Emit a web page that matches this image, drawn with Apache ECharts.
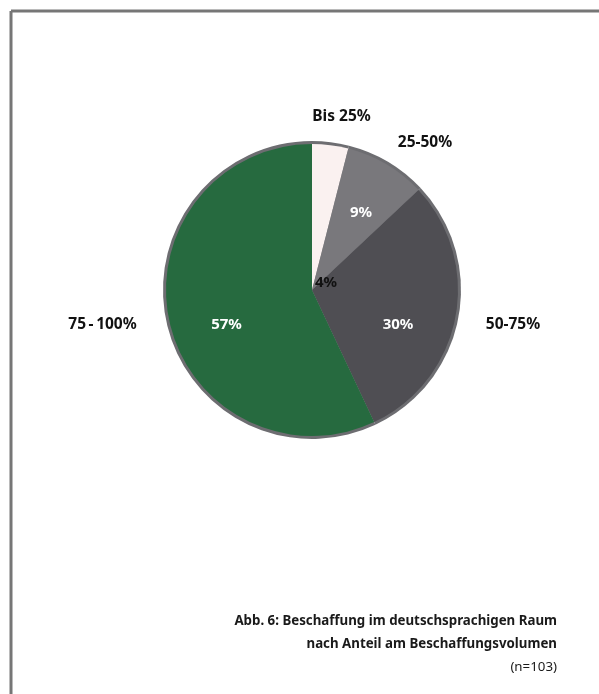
<!DOCTYPE html>
<html>
<head>
<meta charset="utf-8">
<script src="https://cdn.jsdelivr.net/npm/echarts@6/dist/echarts.min.js"></script>
<style>
  html, body { margin: 0; padding: 0; background: #ffffff; }
  #chart { width: 599px; height: 694px; }
</style>
</head>
<body>
<div id="chart"></div>
<script>
// Shares of procurement volume sourced in the German-speaking region
const categories = ['Bis 25%', '25-50%', '50-75%', '75\u2009-\u2009100%'];
const shares = [4, 9, 30, 57];
const sliceColors = ['#faf1f0', '#79787c', '#4f4e53', '#266a3f'];
const valueLabelColors = ['#111111', '#ffffff', '#ffffff', '#ffffff'];

const captionLines = [
  'Abb. 6: Beschaffung im deutschsprachigen Raum',
  'nach Anteil am Beschaffungsvolumen'
];
const captionNote = '(n=103)';

// Pie geometry and label placement (offsets from the pie centre)
const CX = 312, CY = 290, R = 149;
const nameOffsets = [[29.5, -173], [113, -147], [201, 35], [-209.5, 35]];
const valueOffsets = [[14, -7], [49, -77], [86, 35], [-85.5, 35]];

const font = '"Noto Sans", "Open Sans", sans-serif';

const chart = echarts.init(document.getElementById('chart'));

const pieData = categories.map((name, i) => ({
  name,
  value: shares[i],
  itemStyle: { color: sliceColors[i] },
  label: { color: valueLabelColors[i] }
}));

chart.setOption({
  animation: false,
  backgroundColor: '#ffffff',
  title: {
    right: 37,
    top: 605,
    text: captionLines.map(l => '{b|' + l + '}').join('\n') + '\n{n|' + captionNote + '}',
    textStyle: {
      rich: {
        b: { fontFamily: font, fontWeight: 'bold', fontSize: 13.3, color: '#1a1a1a', lineHeight: 23, align: 'right' },
        n: { fontFamily: font, fontWeight: 'normal', fontSize: 13.3, color: '#1a1a1a', lineHeight: 23, align: 'right' }
      }
    }
  },
  graphic: [
    // frame lines along the top and left edges
    { type: 'line', shape: { x1: 11, y1: 11, x2: 599, y2: 11 }, style: { stroke: '#767676', lineWidth: 3 } },
    { type: 'line', shape: { x1: 11, y1: 11, x2: 11, y2: 694 }, style: { stroke: '#767676', lineWidth: 3 } }
  ],
  series: [
    {
      // outer ring: rim of the pie and category names
      type: 'pie',
      center: [CX, CY],
      radius: [0, R],
      startAngle: 90,
      clockwise: true,
      silent: true,
      z: 1,
      data: categories.map((name, i) => ({ name, value: shares[i] })),
      itemStyle: { color: '#6d6d71' },
      label: {
        show: true,
        position: 'outside',
        formatter: '{b}',
        fontFamily: font,
        fontWeight: 'bold',
        fontSize: 15.5,
        color: '#111111'
      },
      labelLine: { show: false },
      labelLayout: (p) => ({
        x: CX + nameOffsets[p.dataIndex][0],
        y: CY + nameOffsets[p.dataIndex][1],
        align: 'center',
        verticalAlign: 'middle',
        hideOverlap: false
      })
    },
    {
      // slices with percentage labels
      type: 'pie',
      center: [CX, CY],
      radius: [0, R - 3],
      startAngle: 90,
      clockwise: true,
      z: 2,
      data: pieData,
      label: {
        show: true,
        position: 'inside',
        formatter: '{c}%',
        fontFamily: font,
        fontWeight: 'bold',
        fontSize: 15
      },
      labelLine: { show: false },
      labelLayout: (p) => ({
        x: CX + valueOffsets[p.dataIndex][0],
        y: CY + valueOffsets[p.dataIndex][1],
        align: 'center',
        verticalAlign: 'middle',
        hideOverlap: false
      })
    }
  ]
});
</script>
</body>
</html>
